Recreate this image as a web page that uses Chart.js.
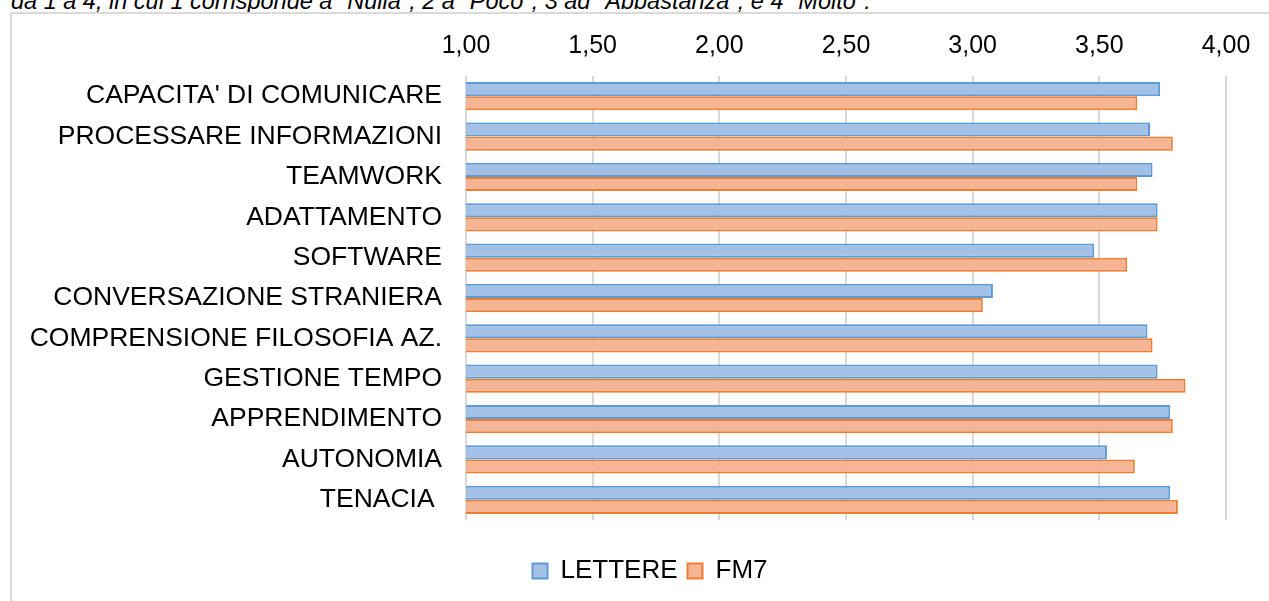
<!DOCTYPE html>
<html>
<head>
<meta charset="utf-8">
<script src="https://cdn.jsdelivr.net/npm/chart.js@4.4.1/dist/chart.umd.min.js"></script>
<style>
    html, body { margin: 0; padding: 0; background: #fff; overflow: hidden; width: 1269px; height: 601px; }
    #note { position: absolute; left: 11px; top: -11px; font: italic 23.5px "Liberation Sans", Arial, sans-serif; line-height: 24px; color: #000; white-space: nowrap; }
    #frame { position: absolute; left: 10px; top: 12px; width: 1400px; height: 700px; border-left: 2px solid #dadada; border-top: 2px solid #dadada; }
    #wrap { position: absolute; left: 0; top: 0; }
</style>
</head>
<body>
<div id="note">da 1 a 4, in cui 1 corrisponde a "Nulla", 2 a "Poco", 3 ad "Abbastanza", e 4 "Molto".</div>
<div id="frame"></div>
<div id="wrap"><canvas id="barChart" width="1300" height="610"></canvas></div>
<script>
var categories = ["CAPACITA' DI COMUNICARE", 'PROCESSARE INFORMAZIONI', 'TEAMWORK', 'ADATTAMENTO', 'SOFTWARE',
    'CONVERSAZIONE STRANIERA', 'COMPRENSIONE FILOSOFIA AZ.', 'GESTIONE TEMPO', 'APPRENDIMENTO', 'AUTONOMIA', 'TENACIA '];
var lettere = [3.74, 3.70, 3.71, 3.73, 3.48, 3.08, 3.69, 3.73, 3.78, 3.53, 3.78];
var fm7 = [3.65, 3.79, 3.65, 3.73, 3.61, 3.04, 3.71, 3.84, 3.79, 3.64, 3.81];
var tickLabels = ['1,00', '1,50', '2,00', '2,50', '3,00', '3,50', '4,00'];

var fontFamily = '"Liberation Sans", Arial, sans-serif';
var ctx = document.getElementById('barChart').getContext('2d');
var myChart = new Chart(ctx, {
    type: 'bar',
    data: {
        labels: categories,
        datasets: [{
            label: 'LETTERE',
            data: lettere,
            backgroundColor: '#a3c0e7',
            borderColor: '#5b9bd5',
            borderWidth: 2,
            borderSkipped: false
        }, {
            label: 'FM7',
            data: fm7,
            backgroundColor: '#f5b494',
            borderColor: '#ed7d31',
            borderWidth: 2,
            borderSkipped: false
        }]
    },
    options: {
        indexAxis: 'y',
        responsive: false,
        animation: false,
        devicePixelRatio: 1,
        layout: { padding: { left: 0, right: 0, top: 0, bottom: 16 } },
        datasets: { bar: { barPercentage: 1, categoryPercentage: 0.7 } },
        scales: {
            x: {
                position: 'top',
                min: 1,
                max: 4,
                afterFit: function (scale) {
                    scale.height = 76;
                    // empty space right of the plot, legend still centred on the full width
                    scale.paddingRight = 74;
                },
                ticks: {
                    stepSize: 0.5,
                    padding: 15,
                    color: '#000',
                    font: { family: fontFamily, size: 25 },
                    callback: function (value, index) { return tickLabels[index]; }
                },
                grid: { color: '#d9d9d9', lineWidth: 2, drawTicks: false },
                border: { display: false }
            },
            y: {
                afterFit: function (scale) { scale.width = 466; },
                ticks: {
                    padding: 24,
                    color: '#000',
                    font: { family: fontFamily, size: 26.5 }
                },
                grid: { display: false, drawTicks: false },
                border: { display: false }
            }
        },
        plugins: {
            tooltip: { enabled: false },
            legend: {
                position: 'bottom',
                title: { display: true, text: '', padding: 8, font: { size: 10 } },
                labels: {
                    boxWidth: 15,
                    boxHeight: 15,
                    padding: 10,
                    color: '#000',
                    font: { family: fontFamily, size: 26 }
                }
            }
        }
    }
});
</script>
</body>
</html>
